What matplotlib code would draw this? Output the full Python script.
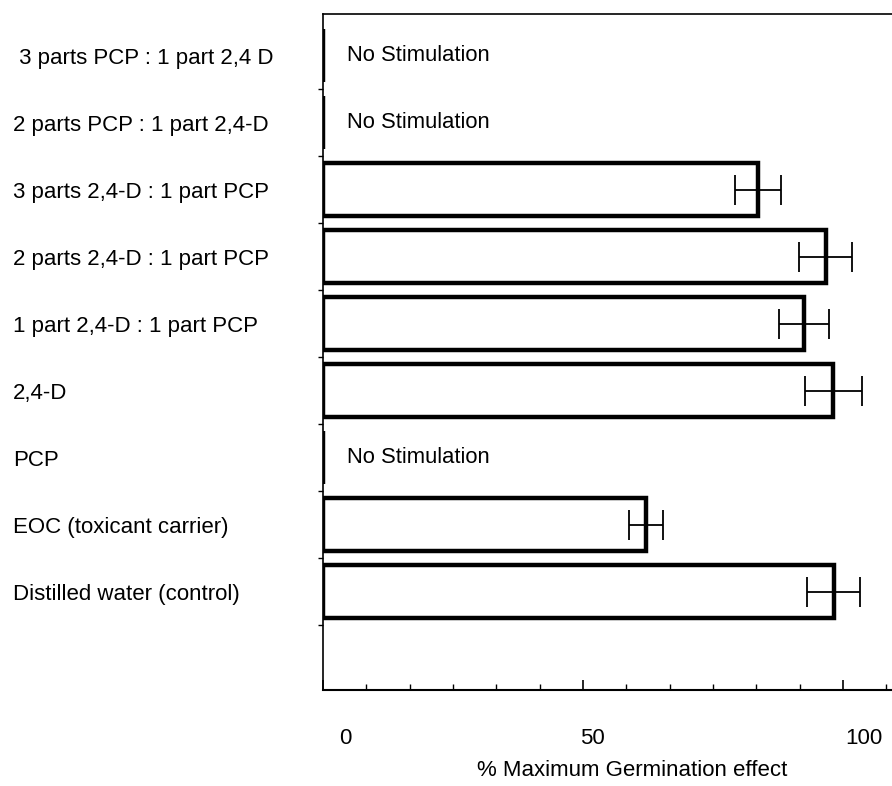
import matplotlib
matplotlib.use("Agg")
import matplotlib.pyplot as plt
import matplotlib.transforms as mtransforms
import numpy as np

plt.rcParams['font.family'] = ['Liberation Sans', 'DejaVu Sans']

categories = [" 3 parts PCP : 1 part 2,4 D",
              "2 parts PCP : 1 part 2,4-D",
              "3 parts 2,4-D : 1 part PCP",
              "2 parts 2,4-D : 1 part PCP",
              "1 part 2,4-D : 1 part PCP",
              "2,4-D",
              "PCP",
              "EOC (toxicant carrier)",
              "Distilled water (control)"]
values = [0, 0, 83.7, 96.7, 92.5, 98.1, 0, 62.1, 98.2]
errors = [0, 0, 4.4, 5.1, 4.8, 5.5, 0, 3.3, 5.1]
no_stim = [True, True, False, False, False, False, True, False, False]
xtick_vals = [0, 50, 100]
xtick_labels = ["0", "50", "100"]
xlabel = "% Maximum Germination effect"

W, H = 892, 786
fig = plt.figure(figsize=(W / 100, H / 100), dpi=100)
ax = fig.add_axes([323 / W, 1 - 690 / H, (W - 323) / W, (690 - 14) / H])

rows = np.arange(len(categories))
ax.barh(rows, values, height=0.78, color='white', edgecolor='black',
        linewidth=3.2, zorder=2)
for r, v, e, ns in zip(rows, values, errors, no_stim):
    if ns:
        ax.text(4.6, r, "No Stimulation", fontsize=15.8, va='center', ha='left')
    else:
        ax.errorbar(v, r, xerr=e, fmt='none', ecolor='black', elinewidth=1.3,
                    capsize=10.5, capthick=1.3, zorder=3)

ax.set_xlim(0, (W - 323) / 5.2)
ax.set_ylim(9.47, -0.62)

# y axis: labels at row centres, ticks at boundaries
ax.set_yticks(rows)
ax.set_yticklabels(categories, fontsize=16, ha='left')
ax.tick_params(axis='y', which='major', length=0, pad=310 * 0.72)
ax.set_yticks(rows + 0.5, minor=True)
ax.tick_params(axis='y', which='minor', direction='out', length=3.5, width=1.0)

# x axis
ax.set_xticks(xtick_vals)
ax.set_xticklabels(xtick_labels, fontsize=16)
ax.set_xticks(np.arange(0, 110, 50 / 6), minor=True)
ax.tick_params(axis='x', which='major', direction='in', length=7, width=1.2, pad=27)
ax.tick_params(axis='x', which='minor', direction='in', length=4, width=1.0)
offsets_px = [22, 9, 21]
for lab, dx in zip(ax.get_xticklabels(), offsets_px):
    lab.set_transform(lab.get_transform() +
                      mtransforms.ScaledTranslation(dx / 100, 0, fig.dpi_scale_trans))

ax.set_xlabel(xlabel, fontsize=16, va='center')
ax.xaxis.set_label_coords((632 - 323) / (W - 323), -(770 - 690) / (690 - 14))

ax.spines['right'].set_visible(False)
ax.spines['left'].set_linewidth(1.2)
ax.spines['top'].set_linewidth(1.2)
ax.spines['bottom'].set_linewidth(1.5)

fig.savefig("out.png", dpi=100)
